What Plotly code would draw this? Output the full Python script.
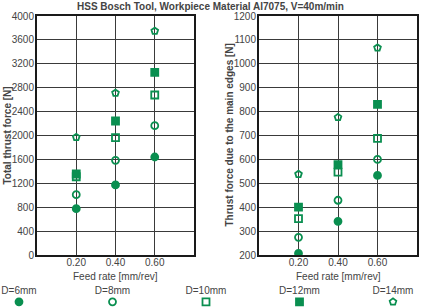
import plotly.graph_objects as go

feed = [0.2, 0.4, 0.6]
labels = ["D=6mm", "D=8mm", "D=10mm", "D=12mm", "D=14mm"]
symbols = ["circle", "circle-open", "square-open", "square", "pentagon-open"]

total_d6 = [775, 1172, 1640]
total_d8 = [1009, 1585, 2165]
total_d10 = [1310, 1963, 2678]
total_d12 = [1356, 2243, 3058]
total_d14 = [1970, 2711, 3749]

main_d6 = [207, 341, 533]
main_d8 = [274, 429, 600]
main_d10 = [352, 547, 688]
main_d12 = [400, 578, 830]
main_d14 = [538, 776, 1067]

x_ticks = [0.2, 0.4, 0.6]
x_ticktext = ["0.20", "0.40", "0.60"]

GREEN = "#0a8f50"
TXT = "#444444"
FONT = "Liberation Sans, Arial, sans-serif"

total = [total_d6, total_d8, total_d10, total_d12, total_d14]
main = [main_d6, main_d8, main_d10, main_d12, main_d14]

fig = go.Figure()
for i, lab in enumerate(labels):
    mk = dict(symbol=symbols[i], size=7, color=GREEN, line=dict(color=GREEN, width=1.8))
    fig.add_trace(go.Scatter(x=feed, y=total[i], mode="markers", marker=mk,
                             name=lab, showlegend=False, xaxis="x", yaxis="y"))
    fig.add_trace(go.Scatter(x=feed, y=main[i], mode="markers", marker=mk,
                             name=lab, showlegend=False, xaxis="x2", yaxis="y2"))

# legend row drawn as its own axis
fig.add_trace(go.Scatter(
    x=list(range(len(labels))), y=[0] * len(labels), mode="markers+text",
    text=labels, textposition="top center",
    textfont=dict(size=10, color=TXT, family=FONT),
    marker=dict(symbol=symbols, size=7, color=GREEN, line=dict(color=GREEN, width=1.8)),
    showlegend=False, xaxis="x3", yaxis="y3", hoverinfo="skip"))

ax_common = dict(showgrid=True, gridcolor="#3a3a3a", gridwidth=1, zeroline=False,
                 showline=True, linecolor="#1a1a1a", linewidth=2, mirror=True,
                 automargin=False, ticks="",
                 tickfont=dict(size=10, color=TXT, family=FONT))

y0, y1 = 1 - 255 / 308, 1 - 16 / 308
fig.update_layout(
    width=421, height=308, margin=dict(l=0, r=0, t=0, b=0, autoexpand=False),
    paper_bgcolor="white", plot_bgcolor="white", showlegend=False,
    font=dict(family=FONT, color=TXT),
    xaxis=dict(domain=[37 / 421, 194 / 421], range=[0, 0.8], tickvals=x_ticks,
               ticktext=x_ticktext, anchor="y", ticklabelstandoff=-3, **ax_common),
    yaxis=dict(domain=[y0, y1], range=[0, 4000], dtick=400, anchor="x",
               ticklabelstandoff=-1, **ax_common),
    xaxis2=dict(domain=[259 / 421, 417 / 421], range=[0, 0.8], tickvals=x_ticks,
                ticktext=x_ticktext, anchor="y2", ticklabelstandoff=-3, **ax_common),
    yaxis2=dict(domain=[y0, y1], range=[200, 1200], dtick=100, anchor="x2",
                ticklabelstandoff=-1, **ax_common),
    xaxis3=dict(domain=[0, 1], range=[-19 / 93.5, (421 - 19) / 93.5], visible=False,
                anchor="y3", automargin=False),
    yaxis3=dict(domain=[0, 0.1], range=[-0.2, 0.8], visible=False, anchor="x3",
                automargin=False),
)

fig.add_annotation(text="<b>HSS Bosch Tool, Workpiece Material Al7075, V=40m/min</b>",
                   x=0.5, y=1, xref="paper", yref="paper", xanchor="center",
                   yanchor="top", yshift=1,
                   showarrow=False, font=dict(size=10, color=TXT, family=FONT))
fig.add_annotation(text="<b>Total thrust force [N]</b>", x=7 / 421, y=(y0 + y1) / 2,
                   xref="paper", yref="paper", xanchor="center", yanchor="middle",
                   textangle=-90, showarrow=False,
                   font=dict(size=10, color=TXT, family=FONT))
fig.add_annotation(text="<b>Thrust force due to the main edges [N]</b>", x=229 / 421,
                   y=(y0 + y1) / 2, xref="paper", yref="paper", xanchor="center",
                   yanchor="middle", textangle=-90,
                   showarrow=False, font=dict(size=10, color=TXT, family=FONT))
for xc in [(37 + 194) / 2 / 421, (259 + 417) / 2 / 421]:
    fig.add_annotation(text="Feed rate [mm/rev]", x=xc, y=1 - 276 / 308, xref="paper",
                       yref="paper", xanchor="center", yanchor="middle", showarrow=False,
                       font=dict(size=10, color=TXT, family=FONT))

fig.write_html("out.html")
